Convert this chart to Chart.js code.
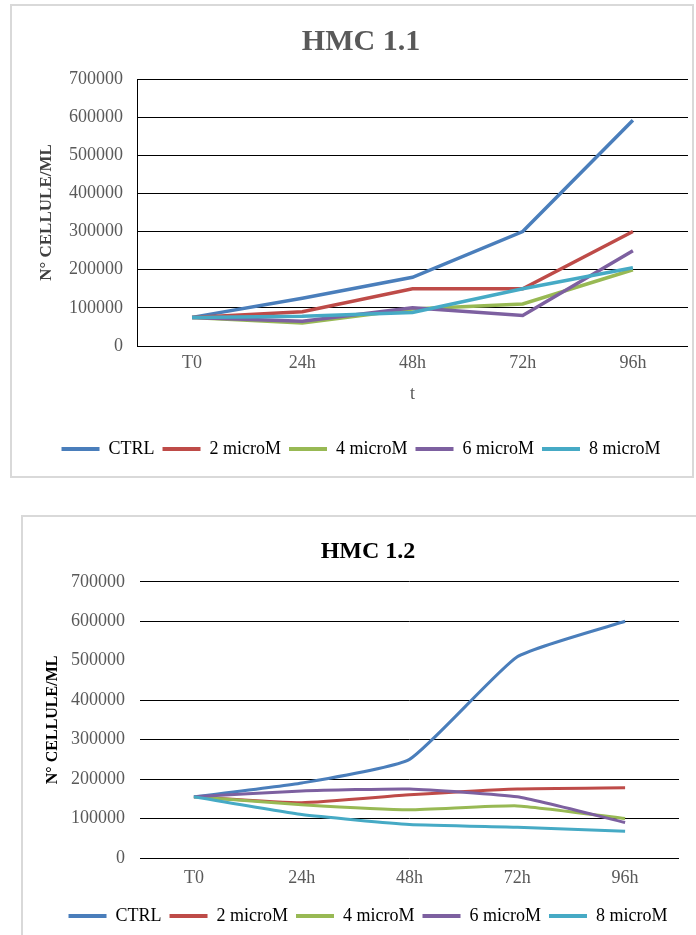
<!DOCTYPE html>
<html>
<head>
<meta charset="utf-8">
<script src="https://cdn.jsdelivr.net/npm/chart.js@4/dist/chart.umd.min.js"></script>
<style>
  html, body { margin: 0; padding: 0; background: #fff; width: 696px; height: 935px; overflow: hidden; }
  .frame { position: absolute; box-sizing: border-box; border: 2px solid #d9d9d9; background: #fff; }
  #frame1 { left: 10px; top: 4px; width: 684px; height: 474px; }
  #frame2 { left: 21px; top: 515px; width: 700px; height: 440px; }
  canvas { position: absolute; }
  #c1 { left: 12px; top: 6px; }
  #c2 { left: 23px; top: 517px; }
</style>
</head>
<body>
<div class="frame" id="frame1"></div>
<div class="frame" id="frame2"></div>
<canvas id="c1" width="681" height="470"></canvas>
<canvas id="c2" width="673" height="418"></canvas>
<script>
// Time points
const categories = ['T0', '24h', '48h', '72h', '96h'];
const seriesNames = ['CTRL', '2 microM', '4 microM', '6 microM', '8 microM'];
const seriesColors = ['#4A7EBB', '#BE4B48', '#98B954', '#7D60A0', '#46AAC5'];

// HMC 1.1 cell counts (cells/mL)
const hmc11Ctrl = [75000, 125000, 180000, 300000, 592000];
const hmc11M2   = [75000, 90000, 150000, 150000, 300000];
const hmc11M4   = [75000, 60000, 97000, 110000, 200000];
const hmc11M6   = [75000, 65000, 100000, 80000, 250000];
const hmc11M8   = [75000, 78000, 88000, 150000, 205000];

// HMC 1.2 cell counts (cells/mL)
const hmc12Ctrl = [155000, 190000, 250000, 510000, 600000];
const hmc12M2   = [155000, 140000, 160000, 175000, 178000];
const hmc12M4   = [155000, 135000, 122000, 132000, 100000];
const hmc12M6   = [155000, 170000, 175000, 155000, 90000];
const hmc12M8   = [155000, 110000, 85000, 78000, 68000];

// y axis range
const yMin = 0, yMax = 700000, yStep = 100000;

const SERIF = '"Liberation Serif", "Times New Roman", serif';

function makeDatasets(values, width, tension) {
  return values.map((v, i) => ({
    label: seriesNames[i],
    data: v,
    borderColor: seriesColors[i],
    backgroundColor: seriesColors[i],
    borderWidth: width,
    pointRadius: 0,
    tension: tension,
    fill: false,
    // later series are painted on top of earlier ones
    order: values.length - i
  }));
}

function legendOptions() {
  return {
    position: 'bottom',
    labels: {
      boxWidth: 38,
      boxHeight: 4,
      padding: 8,
      color: '#595959',
      font: { family: SERIF, size: 18 },
      sort: (a, b) => a.datasetIndex - b.datasetIndex,
      generateLabels(chart) {
        return chart.data.datasets.map((ds, i) => ({
          text: ds.label,
          fillStyle: ds.borderColor,
          strokeStyle: ds.borderColor,
          lineWidth: 0,
          hidden: false,
          datasetIndex: i
        }));
      }
    }
  };
}

// HMC 1.1
new Chart(document.getElementById('c1'), {
  type: 'line',
  data: { labels: categories, datasets: makeDatasets([hmc11Ctrl, hmc11M2, hmc11M4, hmc11M6, hmc11M8], 3.5, 0) },
  options: {
    responsive: false,
    animation: false,
    devicePixelRatio: 1,
    layout: { padding: { left: 22, right: 5, top: 0, bottom: 8 } },
    plugins: {
      title: {
        display: true,
        text: 'HMC 1.1',
        color: '#595959',
        font: { family: SERIF, size: 30, weight: 'bold' },
        padding: { top: 18, bottom: 19 }
      },
      legend: legendOptions(),
      tooltip: { enabled: false }
    },
    scales: {
      x: {
        offset: true,
        grid: { display: false, drawTicks: false },
        border: { display: false },
        ticks: { color: '#595959', font: { family: SERIF, size: 18 }, padding: 6 },
        title: {
          display: true,
          text: 't',
          color: '#595959',
          font: { family: SERIF, size: 18 },
          padding: { top: 0, bottom: 27 }
        },
        afterFit(scale) { scale.height = 86; }
      },
      y: {
        min: yMin,
        max: yMax,
        ticks: {
          stepSize: yStep,
          color: '#595959',
          font: { family: SERIF, size: 18 },
          padding: 14,
          callback: v => String(v)
        },
        grid: { color: '#000', lineWidth: 1, drawTicks: false },
        border: { display: true, color: '#000', width: 1 },
        title: {
          display: true,
          text: 'N° CELLULE/ML',
          color: '#404040',
          font: { family: SERIF, size: 17, weight: 'bold' },
          padding: { top: 2, bottom: 0 }
        },
        afterFit(scale) { scale.width = 103; }
      }
    }
  }
});

// HMC 1.2
new Chart(document.getElementById('c2'), {
  type: 'line',
  data: { labels: categories, datasets: makeDatasets([hmc12Ctrl, hmc12M2, hmc12M4, hmc12M6, hmc12M8], 3, 0.15) },
  options: {
    responsive: false,
    animation: false,
    devicePixelRatio: 1,
    layout: { padding: { left: 34, right: 17, top: 0, bottom: 0 } },
    plugins: {
      title: {
        display: true,
        text: 'HMC 1.2',
        color: '#000',
        font: { family: SERIF, size: 24, weight: 'bold' },
        padding: { top: 20, bottom: 16 }
      },
      legend: legendOptions(),
      tooltip: { enabled: false }
    },
    scales: {
      x: {
        offset: true,
        grid: { display: false, drawTicks: false },
        border: { display: false },
        ticks: { color: '#595959', font: { family: SERIF, size: 18 }, padding: 9 },
        afterFit(scale) { scale.height = 41; }
      },
      y: {
        min: yMin,
        max: yMax,
        ticks: {
          stepSize: yStep,
          color: '#595959',
          font: { family: SERIF, size: 18 },
          padding: 15,
          callback: v => String(v)
        },
        grid: {
          // the 500000 rule is not drawn on this panel
          color: ctx => (ctx.tick && ctx.tick.value === 500000 ? 'rgba(0,0,0,0)' : '#000'),
          lineWidth: 1,
          drawTicks: false
        },
        border: { display: false },
        title: {
          display: true,
          text: 'N° CELLULE/ML',
          color: '#000',
          font: { family: SERIF, size: 16, weight: 'bold' },
          padding: { top: -14, bottom: 0 }
        },
        afterFit(scale) { scale.width = 83; }
      }
    }
  }
});
</script>
</body>
</html>
